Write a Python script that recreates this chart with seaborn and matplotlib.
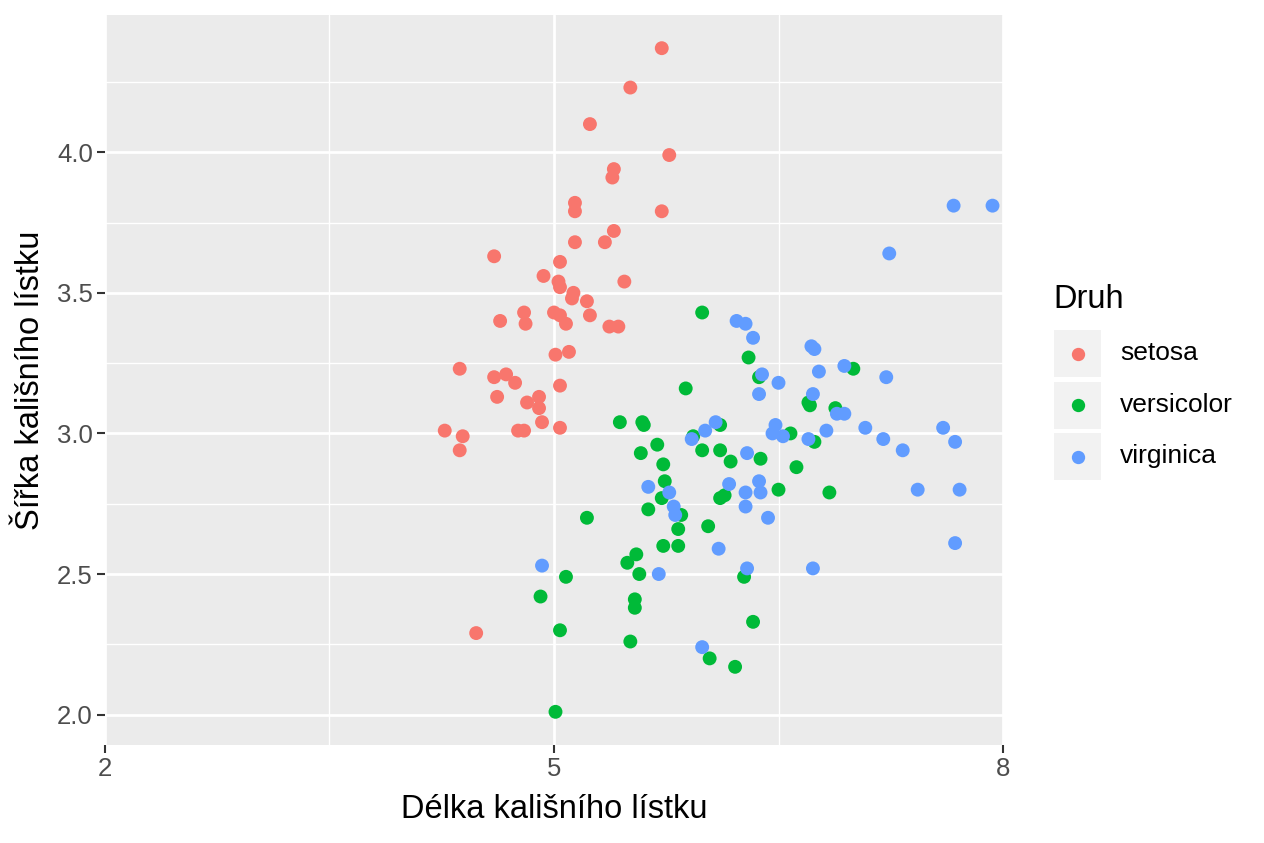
import numpy as np
import pandas as pd
import matplotlib
matplotlib.use("Agg")
import matplotlib.pyplot as plt
from matplotlib.patches import Rectangle
from matplotlib.ticker import FixedLocator, FormatStrFormatter
import seaborn as sns

# ==============================
# DATA (jittered iris)
# ==============================
setosa_x = [5.72, 5.51, 5.24, 5.77, 5.40, 5.39, 5.14, 5.14, 5.72, 5.40,
            5.14, 5.34, 4.60, 5.04, 4.93, 5.03, 5.04, 5.47, 5.13, 5.12,
            5.22, 4.80, 4.64, 4.81, 5.00, 5.04, 5.08, 5.24, 5.37, 5.43,
            5.10, 5.01, 4.37, 4.60, 4.68, 4.74, 5.04, 4.62, 4.90, 4.82,
            4.90, 4.92, 5.04, 4.27, 4.39, 4.76, 4.80, 4.37, 4.48]
setosa_y = [4.37, 4.23, 4.10, 3.99, 3.94, 3.91, 3.82, 3.79, 3.79, 3.72,
            3.68, 3.68, 3.63, 3.61, 3.56, 3.54, 3.52, 3.54, 3.50, 3.48,
            3.47, 3.43, 3.40, 3.39, 3.43, 3.42, 3.39, 3.42, 3.38, 3.38,
            3.29, 3.28, 3.23, 3.20, 3.21, 3.18, 3.17, 3.13, 3.13, 3.11,
            3.09, 3.04, 3.02, 3.01, 2.99, 3.01, 3.01, 2.94, 2.29]

versicolor_x = [5.99, 6.30, 5.88, 6.37, 6.70, 6.71, 6.88, 7.00, 6.58, 6.74,
                6.11, 5.93, 5.99, 6.11, 6.18, 6.38, 6.62, 6.50, 6.84, 6.11,
                6.14, 5.73, 5.69, 5.74, 5.58, 5.44, 5.59, 5.60, 5.72, 5.63,
                5.85, 5.83, 6.03, 5.73, 5.83, 5.55, 5.49, 5.57, 5.22, 5.08,
                4.91, 5.04, 5.54, 5.54, 5.51, 6.27, 6.33, 6.04, 6.21, 5.01]
versicolor_y = [3.43, 3.27, 3.16, 3.20, 3.11, 3.10, 3.09, 3.23, 3.00, 2.97,
                3.03, 2.99, 2.94, 2.94, 2.90, 2.91, 2.88, 2.80, 2.79, 2.77,
                2.78, 2.89, 2.96, 2.83, 2.93, 3.04, 3.04, 3.03, 2.77, 2.73,
                2.71, 2.66, 2.67, 2.60, 2.60, 2.57, 2.54, 2.50, 2.70, 2.49,
                2.42, 2.30, 2.41, 2.38, 2.26, 2.49, 2.33, 2.20, 2.17, 2.01]

virginica_x = [7.67, 7.93, 7.24, 6.22, 6.28, 6.33, 6.72, 6.74, 6.39, 6.50,
               6.37, 6.77, 6.94, 6.73, 7.22, 6.89, 6.94, 6.82, 6.48, 6.46,
               6.53, 6.70, 7.08, 7.60, 7.20, 7.33, 7.68, 6.08, 6.01, 5.92,
               6.29, 6.17, 6.37, 6.38, 6.28, 6.28, 5.77, 5.80, 5.81, 5.63,
               6.43, 6.10, 6.29, 6.73, 5.70, 4.92, 5.99, 7.43, 7.71, 7.68]
virginica_y = [3.81, 3.81, 3.64, 3.40, 3.39, 3.34, 3.31, 3.30, 3.21, 3.18,
               3.14, 3.22, 3.24, 3.14, 3.20, 3.07, 3.07, 3.01, 3.03, 3.00,
               2.99, 2.98, 3.02, 3.02, 2.98, 2.94, 2.97, 3.04, 3.01, 2.98,
               2.93, 2.82, 2.83, 2.79, 2.79, 2.74, 2.79, 2.74, 2.71, 2.81,
               2.70, 2.59, 2.52, 2.52, 2.50, 2.53, 2.24, 2.80, 2.80, 2.61]

species = ["setosa", "versicolor", "virginica"]
colors = ["#F8766D", "#00BA38", "#619CFF"]
x_ticks = [2, 5, 8]
y_ticks = [2.0, 2.5, 3.0, 3.5, 4.0]

df = pd.concat([
    pd.DataFrame({"delka": setosa_x, "sirka": setosa_y, "Druh": "setosa"}),
    pd.DataFrame({"delka": versicolor_x, "sirka": versicolor_y, "Druh": "versicolor"}),
    pd.DataFrame({"delka": virginica_x, "sirka": virginica_y, "Druh": "virginica"}),
], ignore_index=True)

# ==============================
# STYLE
# ==============================
sns.set_theme(style="darkgrid")
plt.rcParams["font.family"] = ["Liberation Sans", "DejaVu Sans"]

W, H = 1264, 843
fig = plt.figure(figsize=(W / 100, H / 100), dpi=100)
ax = fig.add_axes([105 / W, 98 / H, 898 / W, 730 / H])

sns.scatterplot(data=df, x="delka", y="sirka", hue="Druh", hue_order=species,
                palette=colors, s=100, linewidth=0, ax=ax, legend=False, zorder=3)

# limits like ggplot (x fixed, y 5% expansion)
ax.set_xlim(x_ticks[0], x_ticks[-1])
ymin, ymax = df["sirka"].min(), df["sirka"].max()
pad = 0.05 * (ymax - ymin)
ax.set_ylim(ymin - pad, ymax + pad)

x_minor = [(a + b) / 2 for a, b in zip(x_ticks[:-1], x_ticks[1:])]
y_step = y_ticks[1] - y_ticks[0]
y_minor = [t + y_step / 2 for t in y_ticks]
ax.xaxis.set_major_locator(FixedLocator(x_ticks))
ax.xaxis.set_minor_locator(FixedLocator(x_minor))
ax.yaxis.set_major_locator(FixedLocator(y_ticks))
ax.yaxis.set_minor_locator(FixedLocator(y_minor))
ax.yaxis.set_major_formatter(FormatStrFormatter("%.1f"))

ax.set_facecolor("#EBEBEB")
ax.grid(which="major", color="white", linewidth=1.95)
ax.grid(which="minor", color="white", linewidth=1.0)
ax.set_axisbelow(True)
for s in ax.spines.values():
    s.set_visible(False)

ax.tick_params(which="major", bottom=True, left=True, length=5.8, width=1.5,
               color="#333333", labelsize=18.5, labelcolor="#4D4D4D", pad=3)
ax.tick_params(which="minor", length=0)

ax.set_xlabel("Délka kališního lístku", fontsize=23.5, color="black", labelpad=9)
ax.set_ylabel("Šířka kališního lístku", fontsize=23.5, color="black", labelpad=8)

# ==============================
# LEGEND (ggplot-like keys)
# ==============================
lx, ly, lw, lh = 1040, 280, 224, 215
leg = fig.add_axes([lx / W, 1 - (ly + lh) / H, lw / W, lh / H])
leg.set_xlim(0, lw)
leg.set_ylim(lh, 0)
leg.axis("off")
leg.text(13, 28, "Druh", fontsize=23.5, color="black", va="baseline", ha="left")
for i, (name, col) in enumerate(zip(species, colors)):
    top = 50 + 51.5 * i
    leg.add_patch(Rectangle((14, top), 47, 47, facecolor="#F2F2F2", edgecolor="none"))
    leg.scatter([37.5], [top + 23.5], s=92, color=col, linewidth=0)
    leg.text(80, top + 23.5, name, fontsize=19, color="black", va="center", ha="left")

fig.savefig("out.png", dpi=100)
